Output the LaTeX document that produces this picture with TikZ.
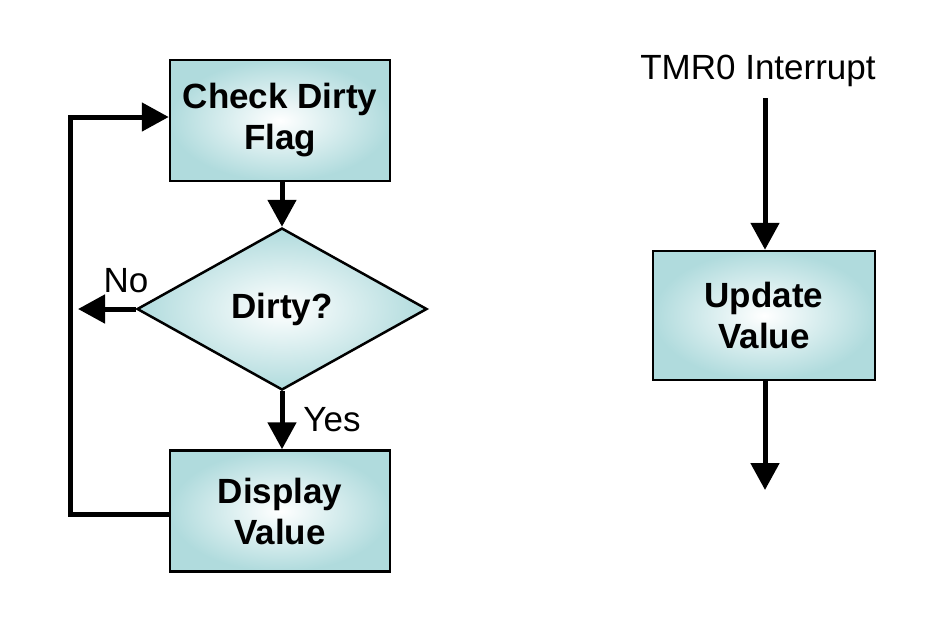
\documentclass[tikz,border=0pt]{standalone}
\usepackage{fontspec}
\setmainfont{Liberation Sans}
\usetikzlibrary{arrows.meta,shapes.geometric}
\definecolor{boxteal}{RGB}{176,219,221}
\begin{document}
\begin{tikzpicture}[x=1pt,y=-1pt,
  procbox/.style={draw=black,line width=2.5pt,inner color=white,outer color=boxteal,
    minimum width=220pt,minimum height=121pt,inner sep=0pt,align=center,
    font=\fontsize{35}{41}\selectfont\bfseries},
  decbox/.style={diamond,draw=black,line width=2.5pt,inner color=white,outer color=boxteal,
    minimum width=290pt,minimum height=162pt,inner sep=0pt,aspect=1.79,
    font=\fontsize{35}{41}\selectfont\bfseries},
  conn/.style={line width=5pt,-{Triangle[length=27pt,width=28pt]}},
  lbl/.style={font=\fontsize{35}{41}\selectfont,inner sep=0pt}]
\useasboundingbox (0,0) rectangle (942,638);
\node[procbox] (check) at (280,120.5) {Check Dirty\\Flag};
\node[decbox, shape aspect=1.79] (dirty) at (282,309) {Dirty?};
\node[procbox] (display) at (280,511) {Display\\Value};
\node[procbox,minimum width=222pt,minimum height=129pt] (update) at (764,315.5) {Update\\Value};
\node[lbl] (tmr) at (758,71) {TMR0 Interrupt};
\coordinate (tmrend) at (765,98);
\coordinate (noend) at (78,309);
\coordinate (upend) at (765,490);
\coordinate (loopA) at (70,514);
\coordinate (loopB) at (70,117);
\node[lbl] (no) at (126,281) {No};
\node[lbl] (yes) at (332,420) {Yes};
\draw[conn] (check.south -| dirty.north) -- (dirty.north);
\draw[conn] (dirty.south) -- (dirty.south |- display.north);
\draw[conn] (dirty.west) -- (noend);
\draw[line width=5pt,-{Triangle[length=27pt,width=28pt]}] (display.west |- loopA) -- (loopA) -- (loopB) -- (check.west |- loopB);
\draw[conn] (tmrend) -- (tmrend |- update.north);
\draw[conn] (update.south -| upend) -- (upend);
\end{tikzpicture}
\end{document}
